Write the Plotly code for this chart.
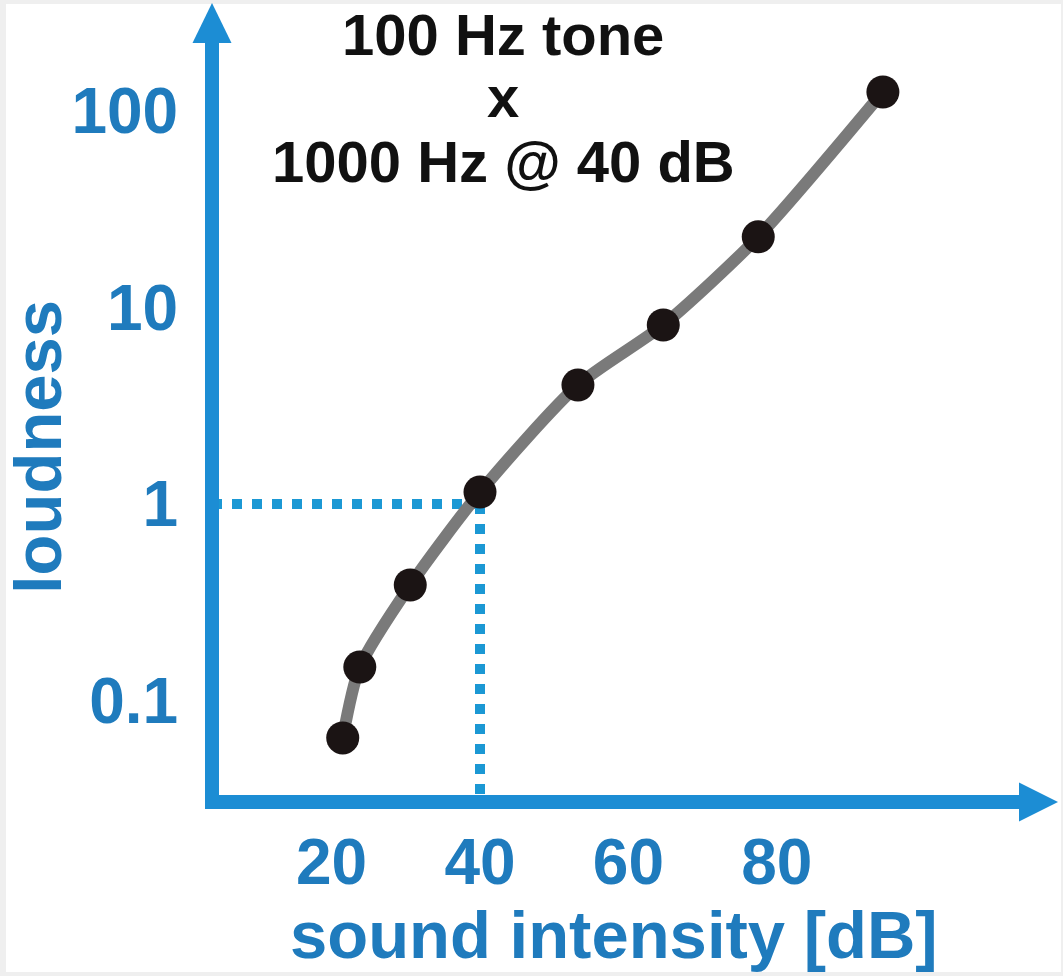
import plotly.graph_objects as go

# ---- data ----
intensity_db = [21.5, 23.8, 30.6, 40.0, 53.2, 64.7, 77.5, 94.3]
loudness = [0.0645, 0.148, 0.387, 1.15, 4.03, 8.15, 22.9, 125.0]

x_tickvals = [20, 40, 60, 80]
x_ticktext = ["20", "40", "60", "80"]
y_tickvals = [0.1, 1, 10, 100]
y_ticktext = ["0.1", "1", "10", "100"]

ref_db = 40
ref_loudness = 1

title_lines = ["100 Hz tone", "x", "1000 Hz @ 40 dB"]
x_title = "sound intensity [dB]"
y_title = "loudness"

# ---- styling ----
W, H = 1063, 976
ML, MR, MT, MB = 212, 5, 0, 174
AXIS_BLUE = "#1c8dd4"
TEXT_BLUE = "#1f7bbd"
DOT_BLUE = "#1b98d4"
FONT = "Liberation Sans, Arial, sans-serif"

x_range = [3.881, 117.898]
y_range = [-1.5165, 2.5649]
y_min_val = 10 ** y_range[0]

fig = go.Figure()

# dotted reference lines
fig.add_trace(go.Scatter(
    x=[x_range[0], ref_db], y=[ref_loudness, ref_loudness], mode="lines",
    line=dict(color=DOT_BLUE, width=10, dash="10px,10px"),
    hoverinfo="skip", showlegend=False))
fig.add_trace(go.Scatter(
    x=[ref_db, ref_db], y=[ref_loudness, y_min_val], mode="lines",
    line=dict(color=DOT_BLUE, width=10, dash="10px,10px"),
    hoverinfo="skip", showlegend=False))

# curve
fig.add_trace(go.Scatter(
    x=intensity_db, y=loudness, mode="lines",
    line=dict(color="#7a7a7a", width=12, shape="spline", smoothing=0.7),
    hoverinfo="skip", showlegend=False))
# points
fig.add_trace(go.Scatter(
    x=intensity_db, y=loudness, mode="markers",
    marker=dict(color="#1b1414", size=33, line=dict(width=0)),
    showlegend=False, cliponaxis=False))

shapes = []
# light frame background
shapes.append(dict(type="rect", xref="paper", yref="paper",
                   x0=(6 - ML) / 846, x1=(1061 - ML) / 846,
                   y0=(802 - 972) / 802, y1=(802 - 4) / 802,
                   fillcolor="white", line=dict(width=0), layer="below"))
# axis lines
shapes.append(dict(type="line", xref="paper", yref="paper",
                   x0=(205 - ML) / 846, x1=(1025 - ML) / 846, y0=0, y1=0,
                   line=dict(color=AXIS_BLUE, width=14)))
shapes.append(dict(type="line", xref="paper", yref="paper",
                   x0=0, x1=0, y0=(802 - 809) / 802, y1=(802 - 40) / 802,
                   line=dict(color=AXIS_BLUE, width=14)))
# arrow heads
xa0, xa1 = (1019 - ML) / 846, (1058 - ML) / 846
hy = 19.5 / 802
shapes.append(dict(type="path", xref="paper", yref="paper",
                   path=f"M {xa0},{hy} L {xa1},0 L {xa0},{-hy} Z",
                   fillcolor=AXIS_BLUE, line=dict(width=0)))
ya0, ya1 = (802 - 43) / 802, (802 - 3) / 802
hx = 19.5 / 846
shapes.append(dict(type="path", xref="paper", yref="paper",
                   path=f"M {-hx},{ya0} L 0,{ya1} L {hx},{ya0} Z",
                   fillcolor=AXIS_BLUE, line=dict(width=0)))

annotations = []
title_y = [(802 - 34) / 802, (802 - 97) / 802, (802 - 161) / 802]
for txt, yy in zip(title_lines, title_y):
    annotations.append(dict(text=txt, xref="paper", yref="paper",
                            x=(503 - ML) / 846, y=yy, xanchor="center", yanchor="middle",
                            showarrow=False,
                            font=dict(family=FONT, size=58, color="#111111", weight="bold")))
annotations.append(dict(text=x_title, xref="paper", yref="paper",
                        x=(614 - ML) / 846, y=(802 - 934.5) / 802,
                        xanchor="center", yanchor="middle", showarrow=False,
                        font=dict(family=FONT, size=67, color=TEXT_BLUE, weight="bold")))
annotations.append(dict(text=y_title, xref="paper", yref="paper",
                        x=(37 - ML) / 846, y=(802 - 447) / 802, textangle=-90,
                        xanchor="center", yanchor="middle", showarrow=False,
                        font=dict(family=FONT, size=67, color=TEXT_BLUE, weight="bold")))

fig.update_layout(
    width=W, height=H,
    margin=dict(l=ML, r=MR, t=MT, b=MB, pad=0),
    paper_bgcolor="#efefef", plot_bgcolor="rgba(0,0,0,0)",
    showlegend=False,
    shapes=shapes, annotations=annotations,
    xaxis=dict(range=x_range, tickvals=x_tickvals, ticktext=x_ticktext,
               showgrid=False, zeroline=False, showline=False,
               ticks="outside", ticklen=4, tickcolor="rgba(0,0,0,0)",
               tickfont=dict(family=FONT, size=64, color=TEXT_BLUE, weight="bold"),
               fixedrange=True, automargin=False),
    yaxis=dict(type="log", range=y_range, tickvals=y_tickvals, ticktext=y_ticktext,
               showgrid=False, zeroline=False, showline=False,
               ticks="outside", ticklen=20, tickcolor="rgba(0,0,0,0)",
               tickfont=dict(family=FONT, size=64, color=TEXT_BLUE, weight="bold"),
               fixedrange=True, automargin=False),
)

fig.write_html("out.html",
               config={"displayModeBar": False},
               post_script="document.body.style.margin='0';document.body.style.padding='0';")
